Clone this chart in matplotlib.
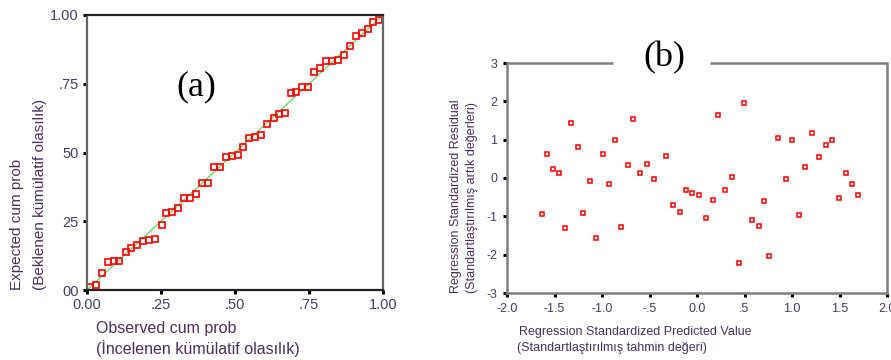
import matplotlib
matplotlib.use("Agg")
import matplotlib.pyplot as plt

plt.rcParams["font.family"] = ["Liberation Sans", "DejaVu Sans"]

# (a) P-P plot: observed vs expected cumulative probability
observed_cum = [0.011, 0.032, 0.050, 0.070, 0.090, 0.108, 0.131, 0.149, 0.169, 0.189,
                0.209, 0.230, 0.252, 0.268, 0.288, 0.307, 0.329, 0.349, 0.367, 0.390,
                0.410, 0.429, 0.448, 0.471, 0.491, 0.509, 0.527, 0.547, 0.568, 0.588,
                0.608, 0.631, 0.649, 0.669, 0.689, 0.707, 0.727, 0.745, 0.766, 0.788,
                0.809, 0.827, 0.849, 0.867, 0.887, 0.910, 0.928, 0.948, 0.966, 0.986]
expected_cum = [0.010, 0.019, 0.062, 0.101, 0.104, 0.106, 0.140, 0.152, 0.165, 0.178,
                0.182, 0.186, 0.238, 0.280, 0.285, 0.297, 0.333, 0.333, 0.350, 0.388,
                0.388, 0.447, 0.447, 0.482, 0.489, 0.492, 0.521, 0.553, 0.555, 0.563,
                0.602, 0.624, 0.640, 0.643, 0.716, 0.721, 0.738, 0.738, 0.794, 0.808,
                0.833, 0.833, 0.837, 0.854, 0.886, 0.922, 0.934, 0.949, 0.973, 0.983]
pp_ticks = [0.0, 0.25, 0.5, 0.75, 1.0]
pp_xticklabels = ["0.00", ".25", ".50", ".75", "1.00"]
pp_yticklabels = ["00", "25", "50", ".75", "1.00"]

# (b) standardized residuals vs standardized predicted values
pred_std = [-1.632, -1.582, -1.519, -1.453, -1.393, -1.326, -1.256, -1.196, -1.123, -1.067,
            -0.993, -0.930, -0.863, -0.804, -0.730, -0.670, -0.596, -0.526, -0.456, -0.323,
            -0.253, -0.182, -0.119, -0.049, 0.018, 0.091, 0.165, 0.225, 0.295, 0.368,
            0.439, 0.498, 0.579, 0.649, 0.709, 0.758, 0.853, 0.937, 0.996, 1.070,
            1.137, 1.211, 1.281, 1.354, 1.425, 1.495, 1.565, 1.635, 1.698]
resid_std = [-0.93, 0.63, 0.24, 0.14, -1.30, 1.44, 0.81, -0.91, -0.07, -1.56,
             0.63, -0.15, 0.98, -1.27, 0.35, 1.54, 0.14, 0.37, -0.03, 0.58,
             -0.70, -0.88, -0.30, -0.40, -0.45, -1.04, -0.58, 1.65, -0.30, 0.03,
             -2.23, 1.95, -1.09, -1.25, -0.60, -2.04, 1.05, -0.03, 0.98, -0.96,
             0.30, 1.18, 0.55, 0.87, 0.98, -0.52, 0.12, -0.15, -0.45]
res_xticks = [-2.0, -1.5, -1.0, -0.5, 0.0, 0.5, 1.0, 1.5, 2.0]
res_xticklabels = ["-2.0", "-1.5", "-1.0", "-.5", "0.0", ".5", "1.0", "1.5", "2.0"]
res_yticks = [-3, -2, -1, 0, 1, 2, 3]
res_yticklabels = ["-3", "-2", "-1", "0", "1", "2", "3"]

W, H = 891, 360
fig = plt.figure(figsize=(W / 100, H / 100), dpi=100)

def fx(px):
    return px / W

def fy(py):
    return 1 - py / H

label_color = "#4a2f5e"
tick_color = "#4a3a6a"

# ---- panel (a)
ax1 = fig.add_axes([fx(87), fy(290), fx(383) - fx(87), fy(15) - fy(290)])
ax1.plot([0, 1], [0, 1], color="#55dd55", lw=0.9, zorder=1)
ax1.plot(observed_cum, expected_cum, ls="none", marker="s", ms=4.6,
         mfc="none", mec="#ff0000", mew=1.2, zorder=2, clip_on=False)
ax1.set_xlim(0, 1)
ax1.set_ylim(0, 1)
ax1.set_xticks(pp_ticks)
ax1.set_xticklabels(pp_xticklabels)
ax1.set_yticks(pp_ticks)
ax1.set_yticklabels(pp_yticklabels)
ax1.tick_params(direction="out", length=3, width=2.2, color="black",
                labelsize=10.5, labelcolor=tick_color, pad=3)
for side in ["top", "bottom"]:
    ax1.spines[side].set_color("#222222")
    ax1.spines[side].set_linewidth(1.6)
for side in ["left", "right"]:
    ax1.spines[side].set_color("#666666")
    ax1.spines[side].set_linewidth(1.6)
ax1.text(0.37, 0.74, "(a)", transform=ax1.transAxes, ha="center", va="center",
         fontsize=26, family=["Liberation Serif", "DejaVu Serif"], color="black")

fig.text(fx(17), fy(290), "Expected cum prob", rotation=90, ha="center", va="bottom",
         fontsize=11, color=label_color)
fig.text(fx(40), fy(290), "(Beklenen kümülatif olasılık)", rotation=90, ha="center",
         va="bottom", fontsize=11, color=label_color)
fig.text(fx(96), fy(328), "Observed cum prob", ha="left", va="center",
         fontsize=11.5, color=label_color)
fig.text(fx(96), fy(349), "(İncelenen kümülatif olasılık)", ha="left", va="center",
         fontsize=11.5, color=label_color)

# ---- panel (b)
ax2 = fig.add_axes([fx(507), fy(293), fx(887) - fx(507), fy(63) - fy(293)])
ax2.plot(pred_std, resid_std, ls="none", marker="s", ms=3.4,
         mfc="none", mec="#ff0000", mew=1.1, zorder=2)
ax2.set_xlim(-2, 2)
ax2.set_ylim(-3, 3)
ax2.set_xticks(res_xticks)
ax2.set_xticklabels(res_xticklabels)
ax2.set_yticks(res_yticks)
ax2.set_yticklabels(res_yticklabels)
ax2.tick_params(direction="out", length=3, width=2.2, color="black",
                labelsize=9, labelcolor=tick_color, pad=4)
for side in ["left", "right", "bottom"]:
    ax2.spines[side].set_color("#808080")
    ax2.spines[side].set_linewidth(1.8)
ax2.spines["top"].set_visible(False)
# top frame line, broken around the panel letter
gap_lo = (613 - 507) / 380
gap_hi = (710 - 507) / 380
for x0, x1 in [(0, gap_lo), (gap_hi, 1)]:
    ax2.plot([x0, x1], [1, 1], transform=ax2.transAxes, color="#808080",
             lw=1.8, clip_on=False, solid_capstyle="butt")
fig.text(fx(664), fy(58), "(b)", ha="center", va="center", fontsize=26,
         family=["Liberation Serif", "DejaVu Serif"], color="black")

fig.text(fx(456), fy(293), "Regression Standardized Residual", rotation=90,
         ha="center", va="bottom", fontsize=9, color=label_color)
fig.text(fx(472), fy(293), "(Standartlaştırılmış artık değerleri)", rotation=90,
         ha="center", va="bottom", fontsize=9, color=label_color)
fig.text(fx(519), fy(332), "Regression Standardized Predicted Value", ha="left",
         va="center", fontsize=9, color=label_color)
fig.text(fx(517), fy(348), "(Standartlaştırılmış tahmin değeri)", ha="left",
         va="center", fontsize=9, color=label_color)

fig.savefig("out.png", dpi=100, facecolor="white")
